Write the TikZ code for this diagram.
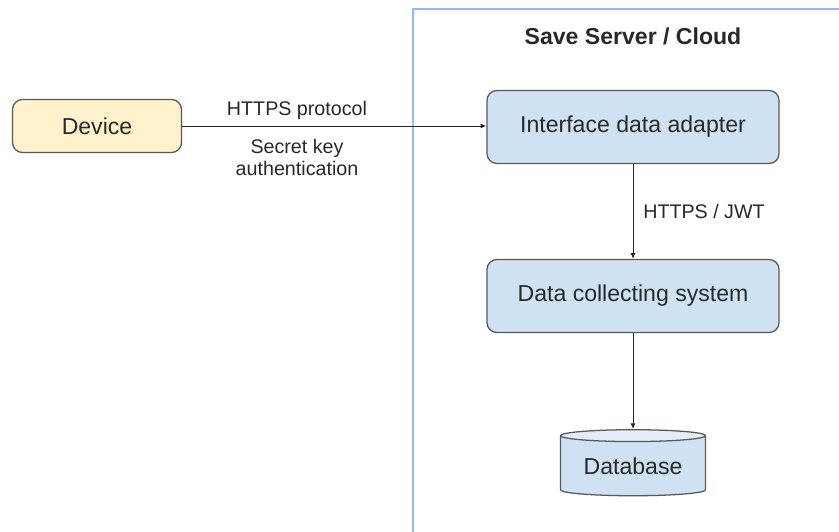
\documentclass[tikz,border=0pt]{standalone}
\usepackage{fontspec}
\setmainfont{Liberation Sans}
\usetikzlibrary{arrows.meta,shapes.geometric}
\definecolor{boxline}{RGB}{89,89,89}
\definecolor{boxblue}{RGB}{207,226,243}
\definecolor{boxtop}{RGB}{226,237,248}
\definecolor{boxyellow}{RGB}{255,242,204}
\definecolor{cloudline}{RGB}{150,185,240}
\definecolor{txt}{RGB}{40,40,40}
\tikzset{
	block/.style={draw=boxline, line width=0.9pt, rounded corners=0.25cm, fill=boxblue, text=txt, font=\fontsize{16.4}{19}\selectfont, inner sep=0pt},
	flow/.style={draw=black!85, line width=0.7pt, -{Latex[length=4pt,width=3.5pt]}},
	flowlabel/.style={text=txt, font=\fontsize{14}{15.6}\selectfont, align=center, inner sep=0pt}
}

\begin{document}
\begin{tikzpicture}[x=0.025cm, y=-0.025cm]
			%%%%% START %%%%%
			\useasboundingbox (0, 0) rectangle (839, 531);
			
			\draw[cloudline, line width=1pt] (845, 9) -- (413, 9) -- (413, 540);
			\node[text=txt, font=\bfseries\fontsize{16.4}{19}\selectfont] (cloud) at (633, 36) {Save Server / Cloud};
			
			\node[block, fill=boxyellow, minimum width=4.225cm, minimum height=1.325cm] (device) at (97, 126) {Device};
			\node[block, minimum width=7.3cm, minimum height=1.825cm] (adapter) at (633, 127) {Interface data adapter};
			\node[block, minimum width=7.3cm, minimum height=1.825cm] (collector) at (633, 296) {Data collecting system};
			\node[draw=boxline, line width=0.9pt, cylinder, shape border rotate=90, aspect=0.12, cylinder uses custom fill, cylinder body fill=boxblue, cylinder end fill=boxtop, text=txt, font=\fontsize{16.4}{19}\selectfont, minimum width=3.625cm, minimum height=1.65cm, inner sep=0pt] (db) at (633, 466) {Database};
			
			\draw[flow] (device.east) -- (adapter.west |- device.east);
			\node[flowlabel] (proto) at (297, 110) {HTTPS protocol};
			\node[flowlabel] (secret) at (297, 157) {Secret key\\authentication};
			
			\draw[flow] (adapter) -- (collector);
			\node[flowlabel, anchor=west] (jwt) at (643, 211) {HTTPS / JWT};
			
			\draw[flow] (collector) -- (db.top);
			%%%%% END %%%%%
		\end{tikzpicture}
\end{document}
